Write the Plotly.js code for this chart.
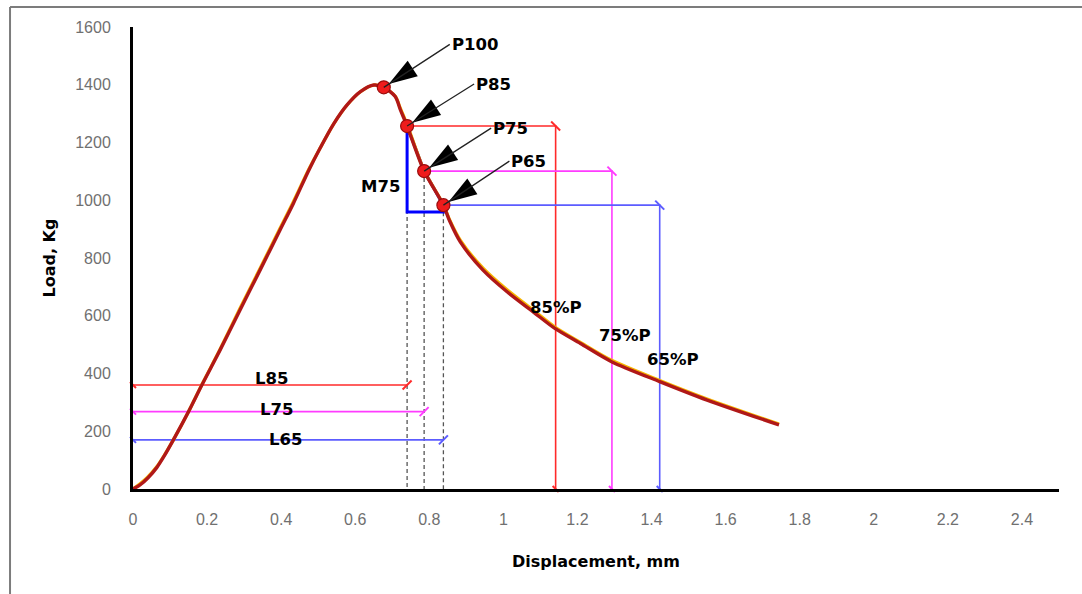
<!DOCTYPE html>
<html><head><meta charset="utf-8">
<script src="https://cdn.plot.ly/plotly-3.0.1.min.js"></script>
<style>html,body{margin:0;padding:0;background:#fff}#chart{width:1082px;height:594px}</style>
</head><body><div id="chart"></div>
<script>
// Load–displacement curve (measured, dark red) and underlying fitted curve (yellow)
const displacement = [0, 0.019, 0.040, 0.064, 0.086, 0.109, 0.150, 0.186, 0.235, 0.289, 0.343, 0.397, 0.433, 0.475, 0.505, 0.541, 0.578, 0.614, 0.650, 0.677, 0.708, 0.722, 0.740, 0.786, 0.838, 0.855, 0.884, 0.945, 1.010, 1.082, 1.139, 1.208, 1.292, 1.422, 1.550, 1.744];
const load = [0, 14, 38, 74, 118, 170, 268, 360, 481, 620, 758, 897, 989, 1105, 1180, 1263, 1330, 1376, 1399, 1391, 1359, 1313, 1257, 1101, 983, 928, 855, 758, 683, 612, 556, 504, 441, 372, 308, 222];
const displacementFit = [0, 0.019, 0.040, 0.064, 0.086, 0.109, 0.150, 0.186, 0.235, 0.289, 0.343, 0.397, 0.433, 0.475, 0.505, 0.541, 0.578, 0.614, 0.650, 0.677, 0.708, 0.722, 0.740, 0.786, 0.838, 0.855, 0.884, 0.945, 1.010, 1.082, 1.139, 1.208, 1.292, 1.422, 1.550, 1.744];
const loadFit = [0, 18, 42, 77, 120, 170, 268, 362, 484, 626, 764, 903, 995, 1108, 1180, 1263, 1330, 1376, 1399, 1391, 1360, 1318, 1263, 1103, 985, 932, 861, 765, 690, 618, 561, 508, 446, 376, 312, 225];

// Characteristic points
const pointNames = ['P100', 'P85', 'P75', 'P65'];
const pointDisp = [0.677, 0.740, 0.786, 0.838];
const pointLoad = [1391, 1257, 1101, 983];

// L85 / L75 / L65 length lines
const lengthLabels = ['L85', 'L75', 'L65'];
const lengthLoad = [360, 268, 170];

// 85%P / 75%P / 65%P lines
const percentLabels = ['85%P', '75%P', '65%P'];
const percentDisp = [1.141, 1.293, 1.422];

// M75 triangle
const m75Disp = [0.740, 0.740, 0.838, 0.838, 0.786, 0.740];
const m75Load = [1257, 959, 959, 983, 1101, 1257];

// Axis ticks
const xTickVals = [0, 0.2, 0.4, 0.6, 0.8, 1, 1.2, 1.4, 1.6, 1.8, 2, 2.2, 2.4];
const xTickText = ['0', '0.2', '0.4', '0.6', '0.8', '1', '1.2', '1.4', '1.6', '1.8', '2', '2.2', '2.4'];
const yTickVals = [0, 200, 400, 600, 800, 1000, 1200, 1400, 1600];
const yTickText = ['0', '200', '400', '600', '800', '1000', '1200', '1400', '1600'];

const levelColors = ['#ff2a2a', '#ff3cff', '#5c5cff'];
const labelFont = {family: 'DejaVu Sans', size: 16.5, color: '#000'};

const traces = [];

// dashed verticals
for (let i = 1; i < 4; i++) {
  traces.push({x: [pointDisp[i], pointDisp[i]], y: [pointLoad[i], 0], mode: 'lines',
    line: {color: '#555', width: 1.3, dash: '4px,3px'}, hoverinfo: 'skip'});
}
// L lines and percent lines
for (let i = 0; i < 3; i++) {
  const c = levelColors[i];
  traces.push({x: [0, pointDisp[i + 1]], y: [lengthLoad[i], lengthLoad[i]], mode: 'lines',
    line: {color: c, width: 1.6}, hoverinfo: 'skip'});
  traces.push({x: [pointDisp[i + 1], percentDisp[i], percentDisp[i]], y: [pointLoad[i + 1], pointLoad[i + 1], 0], mode: 'lines',
    line: {color: c, width: 1.6}, hoverinfo: 'skip'});
  // end ticks
  traces.push({x: [pointDisp[i + 1], percentDisp[i]], y: [lengthLoad[i], pointLoad[i + 1]], mode: 'markers', cliponaxis: false,
    marker: {symbol: ['line-ne', 'line-nw'], size: 9, line: {color: c, width: 2}}, hoverinfo: 'skip'});
  traces.push({x: [0, percentDisp[i]], y: [lengthLoad[i], 0], mode: 'markers', cliponaxis: false,
    marker: {symbol: 'line-nw', size: 6, line: {color: c, width: 2}}, hoverinfo: 'skip'});
}
// M75 triangle
traces.push({x: m75Disp, y: m75Load, mode: 'lines', line: {color: '#0000ff', width: 3}, hoverinfo: 'skip'});
// curves
traces.push({x: displacementFit, y: loadFit, mode: 'lines', line: {color: '#f7b500', width: 3.2, shape: 'spline', smoothing: 0.8}, hoverinfo: 'skip'});
traces.push({x: displacement, y: load, mode: 'lines', line: {color: '#b01818', width: 3.4, shape: 'spline', smoothing: 0.8}, hoverinfo: 'skip'});
// arrowheads
traces.push({x: pointDisp, y: pointLoad, mode: 'markers', cliponaxis: false,
  marker: {symbol: 'arrow', size: 30, angle: 237, standoff: 6, color: '#000', line: {width: 0}}, hoverinfo: 'skip'});
// points
traces.push({x: pointDisp, y: pointLoad, mode: 'markers', cliponaxis: false,
  marker: {symbol: 'circle', size: 13, color: '#ee1c1c', line: {color: '#9a0d0d', width: 1.2}}, hoverinfo: 'skip'});

const annotations = [];
const arrowOffsets = [[66, -43], [67, -42], [67, -43], [66, -44]];
pointNames.forEach((n, i) => {
  annotations.push({x: pointDisp[i], y: pointLoad[i], xref: 'x', yref: 'y', text: '<b>' + n + '</b>',
    showarrow: true, arrowhead: 0, arrowwidth: 1.3, arrowcolor: '#222', standoff: 0,
    ax: arrowOffsets[i][0], ay: arrowOffsets[i][1], xanchor: 'left', yanchor: 'middle', font: labelFont});
});
const lengthPos = [[0.374, 381], [0.388, 274], [0.411, 170]];
lengthLabels.forEach((n, i) => {
  annotations.push({x: lengthPos[i][0], y: lengthPos[i][1], text: '<b>' + n + '</b>', showarrow: false, font: labelFont});
});
const percentPos = [[1.143, 627], [1.327, 530], [1.457, 450]];
percentLabels.forEach((n, i) => {
  annotations.push({x: percentPos[i][0], y: percentPos[i][1], text: '<b>' + n + '</b>', showarrow: false, font: labelFont});
});
annotations.push({x: 0.668, y: 1049, text: '<b>M75</b>', showarrow: false, font: labelFont});

const tickFont = {family: 'Liberation Sans', size: 16, color: '#707070'};
const layout = {
  width: 1082, height: 594,
  margin: {l: 133, r: 23, t: 27, b: 105},
  paper_bgcolor: '#fff', plot_bgcolor: '#fff',
  showlegend: false,
  xaxis: {range: [0, 2.5], tickvals: xTickVals, ticktext: xTickText, showgrid: false, zeroline: false,
    showline: true, linecolor: '#000', linewidth: 3, ticks: 'outside', ticklen: 14, tickcolor: 'rgba(0,0,0,0)',
    tickfont: tickFont,
    title: {text: '<b>Displacement, mm</b>', font: {family: 'DejaVu Sans', size: 16, color: '#000'}, standoff: 29}},
  yaxis: {range: [0, 1600], tickvals: yTickVals, ticktext: yTickText, showgrid: false, zeroline: false,
    showline: true, linecolor: '#000', linewidth: 3, ticks: 'outside', ticklen: 16, tickcolor: 'rgba(0,0,0,0)',
    tickfont: tickFont,
    title: {text: '<b>Load, Kg</b>', font: {family: 'DejaVu Sans', size: 16, color: '#000'}, standoff: 16}},
  annotations: annotations,
  shapes: [
    {type: 'line', xref: 'paper', yref: 'paper', x0: -0.1328, x1: 1.03, y0: 1.0433, y1: 1.0433, line: {color: '#7c7c7c', width: 2}},
    {type: 'line', xref: 'paper', yref: 'paper', x0: -0.1328, x1: -0.1328, y0: 1.0433, y1: -0.25, line: {color: '#7c7c7c', width: 2}}
  ]
};
Plotly.newPlot('chart', traces, layout, {displayModeBar: false, staticPlot: true});
</script>
</body></html>
